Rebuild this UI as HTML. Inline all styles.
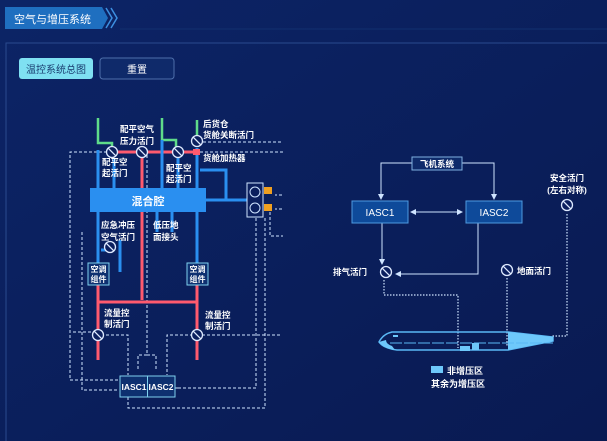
<!DOCTYPE html>
<html><head><meta charset="utf-8"><style>
html,body{margin:0;padding:0;width:607px;height:441px;overflow:hidden;background:#0b1f5e;}
svg{display:block}
text{font-family:"Liberation Sans","Noto Sans CJK SC",sans-serif;font-weight:bold;fill:#fff}
</style></head><body>
<svg width="607" height="441" viewBox="0 0 607 441" xmlns="http://www.w3.org/2000/svg">
<defs>
<linearGradient id="bg" x1="0" y1="0" x2="1" y2="1"><stop offset="0" stop-color="#0c2466"/><stop offset="1" stop-color="#091a52"/></linearGradient>
<marker id="ar" markerWidth="6" markerHeight="6" refX="5" refY="3" orient="auto"><path d="M0,0 L6,3 L0,6z" fill="#cfe4ff"/></marker>
<g id="v"><circle r="5.5" fill="#0b1f5e" stroke="#dfeaff" stroke-width="1.3"/><line x1="-3.8" y1="-3.8" x2="3.8" y2="3.8" stroke="#dfeaff" stroke-width="1.3"/></g>
</defs>
<rect width="607" height="441" fill="url(#bg)"/>
<path d="M5,7 H102 L108,18 L102,29 H5 Z" fill="#1f6fc0"/>
<text x="14" y="23" font-size="11" style="font-weight:normal">空气与增压系统</text>
<path d="M106,8 L112,18 L106,28 M111,8 L117,18 L111,28" stroke="#3d8fe0" stroke-width="1.5" fill="none"/>
<line x1="120" y1="29" x2="607" y2="29" stroke="#12306f" stroke-width="1"/>
<rect x="6" y="43" width="620" height="420" fill="none" stroke="#2a4a8e" stroke-width="1"/>
<rect x="19" y="58" width="74" height="21" rx="3" fill="#7fe0f2"/>
<text x="56" y="73" font-size="10" text-anchor="middle" style="fill:#1a3d70;font-weight:normal">温控系统总图</text>
<rect x="100" y="58" width="74" height="21" rx="3" fill="#0f2a6a" stroke="#4e6fab"/>
<text x="137" y="73" font-size="10" text-anchor="middle" style="font-weight:normal">重置</text>

<g fill="none" stroke="#cfe4ff" stroke-width="1" stroke-dasharray="3,2">
<path d="M112,152 H70 V380 H118"/>
<path d="M203,142 H283"/>
<path d="M200,152 H283"/>
<path d="M82,232 V390 H118"/>
<path d="M270,212 V236 H283"/>
<path d="M265,218 V408 H128 V397"/>
<path d="M256,218 V388 H140 V397"/>
<path d="M73,332 H92"/>
<path d="M106,335 H128 V375"/>
<path d="M193,335 H167 V375"/>
<path d="M202,335 H280"/>
<path d="M147,150 V355 H138 V370 M147,355 H156 V370"/>
<path d="M282,195 H275 M282,209 H275"/>
<path d="M176,388 H180"/>
</g>
<g stroke="#5fdc8a" stroke-width="2.5" fill="none">
<path d="M98,118 V143 H112 V150"/>
<path d="M162,118 V140 H176 V148"/>
<path d="M197,120 V138"/>
</g>
<g stroke="#ff5a6e" stroke-width="3" fill="none">
<path d="M110,152 H194"/>
<path d="M142,152 V300"/>
<path d="M98,302 H197"/>
<path d="M98,285 V360"/>
<path d="M197,285 V360"/>
</g>
<g stroke="#2a8ff0" stroke-width="3" fill="none">
<path d="M98,150 V263"/>
<path d="M114,158 V188"/>
<path d="M162,140 V188"/>
<path d="M178,158 V188"/>
<path d="M197,148 V263"/>
<path d="M206,200 H248"/>
<path d="M200,170 H226 V200"/>
<path d="M101,250 H113"/>
<path d="M120,240 V272"/>
<path d="M172,212 V232"/>
<path d="M157,212 V232"/>
</g>
<rect x="90" y="188" width="116" height="24" fill="#2a8ff0"/>
<text x="148" y="205" font-size="11" text-anchor="middle">混合腔</text>
<rect x="193" y="149" width="7" height="6" fill="#ff5a6e"/>
<use href="#v" x="112" y="152"/><use href="#v" x="142" y="152"/><use href="#v" x="178" y="152"/><use href="#v" x="197" y="141"/>
<use href="#v" x="110" y="247"/>
<use href="#v" x="98" y="335"/><use href="#v" x="197" y="335"/>
<rect x="247" y="183" width="16" height="34" fill="#0b1f5e" stroke="#cfe4ff"/>
<circle cx="255" cy="192" r="5" fill="none" stroke="#cfe4ff"/>
<circle cx="255" cy="208" r="5" fill="none" stroke="#cfe4ff"/>
<rect x="264" y="187" width="8" height="7" fill="#f0a020"/>
<rect x="264" y="204" width="8" height="7" fill="#f0a020"/>
<rect x="88" y="263" width="21" height="22" fill="#0e3070" stroke="#7fd0ee"/>
<text x="98.5" y="272" font-size="8" text-anchor="middle">空调</text><text x="98.5" y="282" font-size="8" text-anchor="middle">组件</text>
<rect x="187" y="263" width="21" height="22" fill="#0e3070" stroke="#7fd0ee"/>
<text x="197.5" y="272" font-size="8" text-anchor="middle">空调</text><text x="197.5" y="282" font-size="8" text-anchor="middle">组件</text>
<rect x="120" y="376" width="55" height="21" fill="#0e3070" stroke="#7fd0ee"/>
<line x1="147.5" y1="376" x2="147.5" y2="397" stroke="#7fd0ee"/>
<text x="134" y="390" font-size="8.5" text-anchor="middle">IASC1</text>
<text x="161" y="390" font-size="8.5" text-anchor="middle">IASC2</text>
<g font-size="8.5">
<text x="120" y="132">配平空气</text><text x="120" y="144">压力活门</text>
<text x="102" y="165">配平空</text><text x="102" y="176">起活门</text>
<text x="166" y="171">配平空</text><text x="166" y="182">起活门</text>
<text x="203" y="127">后货仓</text><text x="203" y="138">货舱关断活门</text>
<text x="203" y="161">货舱加热器</text>
<text x="101" y="228">应急冲压</text><text x="101" y="240">空气活门</text>
<text x="153" y="228">低压地</text><text x="153" y="240">面接头</text>
<text x="104" y="316">流量控</text><text x="104" y="327">制活门</text>
<text x="205" y="318">流量控</text><text x="205" y="329">制活门</text>
</g>

<g stroke="#cfe4ff" stroke-width="1" fill="none">
<path d="M412,163 H381 V199" marker-end="url(#ar)"/>
<path d="M462,163 H494 V199" marker-end="url(#ar)"/>
<path d="M420,212 H462" marker-end="url(#ar)"/>
<path d="M454,212 H411" marker-end="url(#ar)"/>
<path d="M382,223 V264" marker-end="url(#ar)"/>
<path d="M478,223 V274 H396" marker-end="url(#ar)"/>
</g>
<g stroke="#cfe4ff" stroke-width="1.2" fill="none" stroke-dasharray="1.5,1.5">
<path d="M384,280 V295 H458 V348"/>
<path d="M507,278 V346"/>
<path d="M567,214 V336 H552"/>
</g>
<rect x="412" y="157" width="50" height="13" fill="#0e2a6a" stroke="#7fb0e0"/>
<text x="437" y="167" font-size="8.5" text-anchor="middle">飞机系统</text>
<rect x="352" y="201" width="56" height="22" fill="#0e4a9a" stroke="#4e9ae0"/>
<text x="380" y="216" font-size="10" text-anchor="middle" style="font-weight:normal">IASC1</text>
<rect x="466" y="201" width="56" height="22" fill="#0e4a9a" stroke="#4e9ae0"/>
<text x="494" y="216" font-size="10" text-anchor="middle" style="font-weight:normal">IASC2</text>
<use href="#v" x="386" y="272"/><use href="#v" x="507" y="270"/><use href="#v" x="567" y="205"/>
<text x="333" y="275" font-size="8.5">排气活门</text>
<text x="517" y="274" font-size="8.5">地面活门</text>
<text x="567" y="181" font-size="8.5" text-anchor="middle">安全活门</text>
<text x="567" y="193" font-size="8.5" text-anchor="middle">(左右对称)</text>
<path d="M392,332 H508 L553,337 V341 L508,350 H397 Q383,348 379,342 Q383,334 392,332 Z" fill="none" stroke="#5ab8f5" stroke-width="1.5"/>
<path d="M508,332 L553,337 V341 L508,350 Z" fill="#6ec8fb"/>
<path d="M379,342 Q383,348 395,350 L392,346 Q386,344 386,340Z" fill="#6ec8fb"/>
<path d="M393,336 H398" stroke="#6ec8fb" stroke-width="2"/>
<path d="M390,343 H553" stroke="#5ab8f5" stroke-width="1" stroke-dasharray="12,2"/>
<rect x="460" y="346" width="10" height="5" fill="#6ec8fb"/>
<rect x="472" y="343" width="7" height="7" fill="#6ec8fb"/>
<rect x="431" y="366" width="12" height="7" fill="#6ec8fb"/>
<text x="447" y="374" font-size="9">非增压区</text>
<text x="431" y="387" font-size="9">其余为增压区</text>
</svg>
</body></html>
